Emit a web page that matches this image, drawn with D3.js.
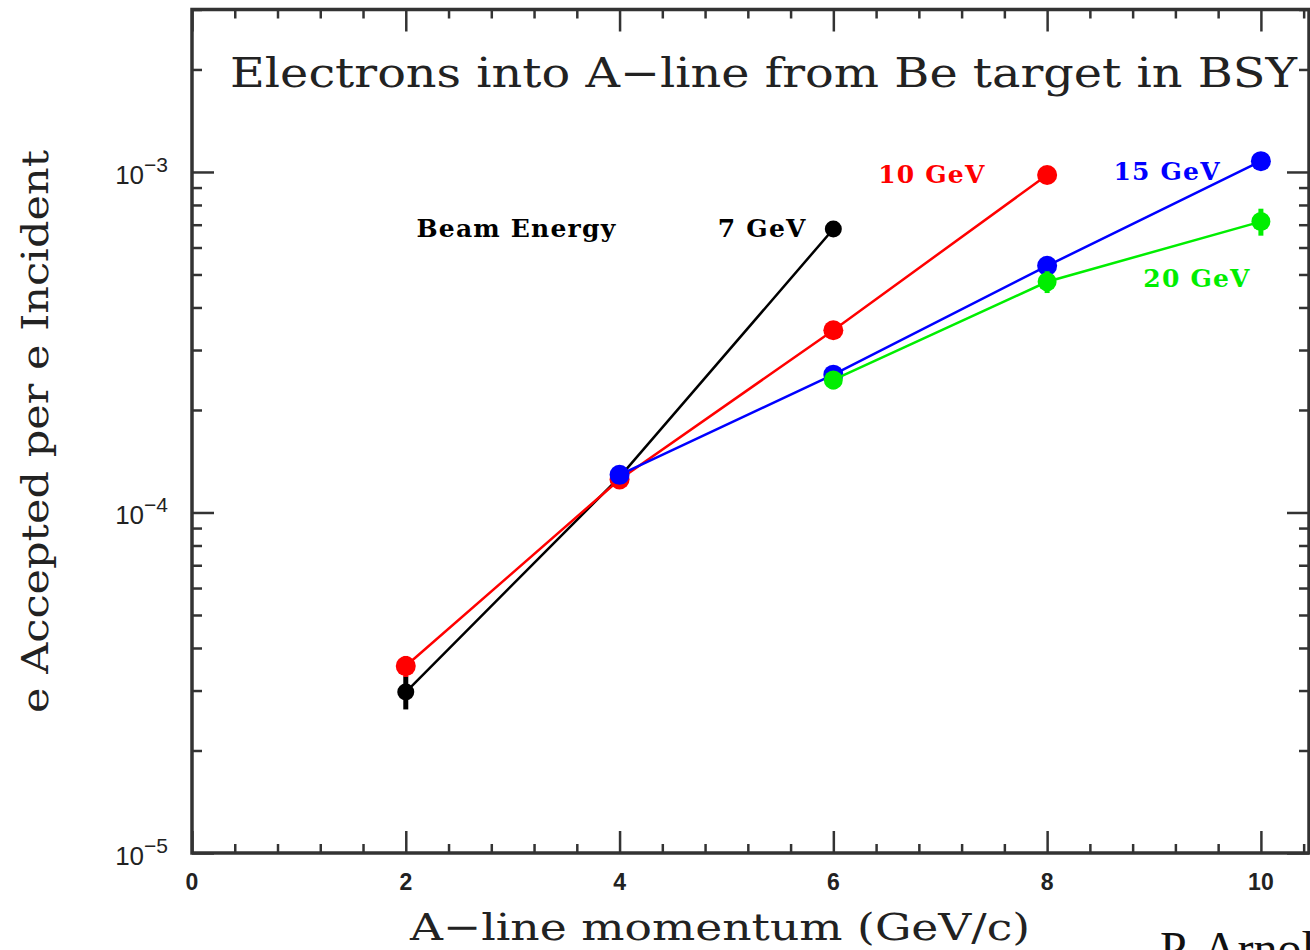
<meta charset="utf-8">
<script src="https://d3js.org/d3.v7.min.js"></script>

<style>
    body { margin: 0; background: #fff; }
    .lbl { font-family: "DejaVu Serif", serif; }
</style>

<svg width="1310" height="950"></svg>

<script>
    // beam energies and their points (momentum GeV/c, accepted fraction, error)
    var energies = ["7 GeV", "10 GeV", "15 GeV", "20 GeV"];
    var colors = ["#000000", "#ff0000", "#0000ff", "#00ee00"];

    var p7  = [2, 4, 6];
    var a7  = [2.97e-5, 1.27e-4, 6.8e-4];
    var e7  = [3.3e-6, 5e-6, 1.5e-5];

    var p10 = [2, 4, 6, 8];
    var a10 = [3.54e-5, 1.25e-4, 3.43e-4, 9.8e-4];
    var e10 = [2.5e-6, 6e-6, 1.2e-5, 2.5e-5];

    var p15 = [4, 6, 8, 10];
    var a15 = [1.29e-4, 2.54e-4, 5.3e-4, 1.076e-3];
    var e15 = [5e-6, 1e-5, 2e-5, 3e-5];

    var p20 = [6, 8, 10];
    var a20 = [2.45e-4, 4.76e-4, 7.15e-4];
    var e20 = [1.5e-5, 3.5e-5, 6.5e-5];

    // tick values
    var xMajor = [0, 2, 4, 6, 8, 10];
    var yMajor = [1e-5, 1e-4, 1e-3];

    // text annotations, anchored in data units
    var notes = [
        {text: "Beam Energy", x: 2.10, y: 6.43e-4, anchor: "start", color: "#000"},
        {text: "7 GeV",  x: 5.75, y: 6.43e-4, anchor: "end",   color: "#000"},
        {text: "10 GeV", x: 6.42, y: 9.27e-4, anchor: "start", color: "#ff0000"},
        {text: "15 GeV", x: 8.62, y: 9.46e-4, anchor: "start", color: "#0000ff"},
        {text: "20 GeV", x: 8.90, y: 4.59e-4, anchor: "start", color: "#00ee00"}
    ];

    var svg = d3.select("svg");

    var x = d3.scaleLinear().domain([0, 10.45]).range([192, 1309]);
    var y = d3.scaleLog().domain([1e-5, 3e-3]).range([853, 9.5]);

    var series = [
        {p: p7, a: a7, e: e7, r: 8.5},
        {p: p10, a: a10, e: e10, r: 10},
        {p: p15, a: a15, e: e15, r: 10},
        {p: p20, a: a20, e: e20, r: 9.5}
    ].map(function(s, i) {
        return {
            name: energies[i],
            color: colors[i],
            r: s.r,
            points: s.p.map(function(v, j) { return {x: v, y: s.a[j], err: s.e[j]}; })
        };
    });

    // minor ticks
    var xMinor = d3.range(0, 10.45, 0.4).filter(function(v) {
        return Math.abs(v / 2 - Math.round(v / 2)) > 0.01;
    });
    var yMinor = [];
    yMajor.forEach(function(d) {
        d3.range(2, 10).forEach(function(k) { if (d * k <= 3.0001e-3) yMinor.push(d * k); });
    });

    var frame = svg.append("g").attr("class", "frame");

    function addAxis(axis, transform, values, size) {
        var g = frame.append("g")
            .attr("transform", transform)
            .call(axis.tickValues(values).tickSizeInner(size).tickSizeOuter(0).tickFormat(""));
        g.select(".domain").remove();
        g.selectAll("line").attr("stroke", "#333").attr("stroke-width", 2.5);
        return g;
    }

    // bottom / top
    addAxis(d3.axisBottom(x), "translate(0,853)", xMajor, -22);
    addAxis(d3.axisBottom(x), "translate(0,853)", xMinor, -9);
    addAxis(d3.axisTop(x), "translate(0,9.5)", xMajor, -22);
    addAxis(d3.axisTop(x), "translate(0,9.5)", xMinor, -9);
    // left / right
    addAxis(d3.axisLeft(y), "translate(192,0)", yMajor, -22);
    addAxis(d3.axisLeft(y), "translate(192,0)", yMinor, -10);
    addAxis(d3.axisRight(y), "translate(1309,0)", yMajor, -22);
    addAxis(d3.axisRight(y), "translate(1309,0)", yMinor, -10);

    // frame box
    frame.append("rect")
        .attr("x", 192).attr("y", 9.5)
        .attr("width", 1309 - 192).attr("height", 853 - 9.5)
        .attr("fill", "none")
        .attr("stroke", "#333")
        .attr("stroke-width", 3.5);

    // x tick labels
    svg.append("g").selectAll("text")
        .data(xMajor)
        .enter().append("text")
        .attr("x", function(d) { return x(d); })
        .attr("y", 890)
        .attr("text-anchor", "middle")
        .attr("font-family", "Liberation Sans, Arial, sans-serif")
        .attr("font-weight", "bold")
        .attr("font-size", "23px")
        .attr("fill", "#222")
        .text(function(d) { return d; });

    // y tick labels, 10^n
    var yl = svg.append("g").selectAll("text")
        .data(yMajor)
        .enter().append("text")
        .attr("x", 168)
        .attr("y", function(d) { return y(d) + 12; })
        .attr("text-anchor", "end")
        .attr("font-family", "Liberation Sans, Arial, sans-serif")
        .attr("font-size", "26px")
        .attr("fill", "#222");
    yl.append("tspan").text("10");
    yl.append("tspan")
        .attr("dy", -12)
        .attr("font-size", "21px")
        .text(function(d) { return "\u2212" + Math.round(-Math.log10(d)); });

    // title
    svg.append("text")
        .attr("class", "lbl")
        .attr("x", 230)
        .attr("y", 87)
        .attr("font-size", "41px")
        .attr("textLength", 1067)
        .attr("lengthAdjust", "spacingAndGlyphs")
        .attr("fill", "#222")
        .text("Electrons into A\u2212line from Be target in BSY");

    // axis titles
    svg.append("text")
        .attr("class", "lbl")
        .attr("x", 410)
        .attr("y", 940)
        .attr("font-size", "38px")
        .attr("textLength", 620)
        .attr("lengthAdjust", "spacingAndGlyphs")
        .attr("fill", "#222")
        .text("A\u2212line momentum (GeV/c)");

    svg.append("text")
        .attr("class", "lbl")
        .attr("transform", "translate(48,713) rotate(-90)")
        .attr("font-size", "38px")
        .attr("textLength", 563)
        .attr("lengthAdjust", "spacingAndGlyphs")
        .attr("fill", "#222")
        .text("e Accepted per e Incident");

    // author, cut by the page edge as in the slide
    svg.append("text")
        .attr("x", 1160)
        .attr("y", 965)
        .attr("font-family", "Liberation Serif, Times New Roman, serif")
        .attr("font-size", "48px")
        .attr("fill", "#111")
        .text("P. Arnold");

    // lines
    var line = d3.line()
        .x(function(d) { return x(d.x); })
        .y(function(d) { return y(d.y); });

    var sg = svg.append("g").selectAll("g")
        .data(series)
        .enter().append("g");

    sg.append("path")
        .attr("d", function(d) { return line(d.points); })
        .attr("fill", "none")
        .attr("stroke", function(d) { return d.color; })
        .attr("stroke-width", 2.5);

    // error bars
    sg.selectAll("line.err")
        .data(function(d) { return d.points.map(function(p) { return {p: p, c: d.color}; }); })
        .enter().append("line")
        .attr("class", "err")
        .attr("x1", function(d) { return x(d.p.x); })
        .attr("x2", function(d) { return x(d.p.x); })
        .attr("y1", function(d) { return y(d.p.y - d.p.err); })
        .attr("y2", function(d) { return y(d.p.y + d.p.err); })
        .attr("stroke", function(d) { return d.c; })
        .attr("stroke-width", 5);

    sg.selectAll("circle")
        .data(function(d) { return d.points.map(function(p) { return {p: p, c: d.color, r: d.r}; }); })
        .enter().append("circle")
        .attr("cx", function(d) { return x(d.p.x); })
        .attr("cy", function(d) { return y(d.p.y); })
        .attr("r", function(d) { return d.r; })
        .attr("fill", function(d) { return d.c; });

    // annotations
    svg.append("g").selectAll("text")
        .data(notes)
        .enter().append("text")
        .attr("class", "lbl")
        .attr("x", function(d) { return x(d.x); })
        .attr("y", function(d) { return y(d.y); })
        .attr("text-anchor", function(d) { return d.anchor; })
        .attr("font-weight", "bold")
        .attr("font-size", "25px")
        .attr("letter-spacing", "1.2px")
        .attr("fill", function(d) { return d.color; })
        .text(function(d) { return d.text; });
</script>
